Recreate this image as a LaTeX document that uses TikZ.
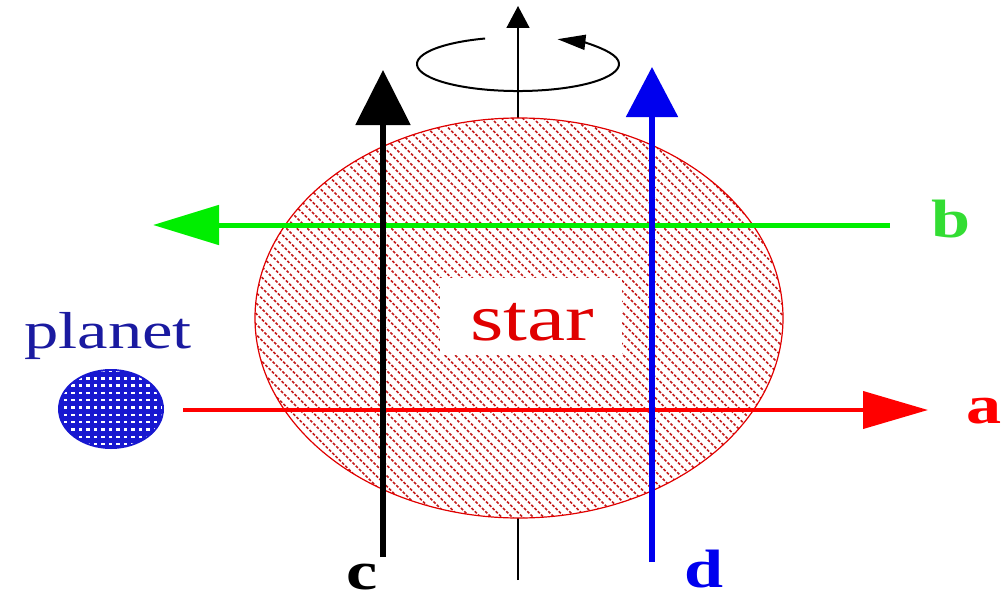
\documentclass[tikz,border=0pt]{standalone}
\usepackage{fontspec}
\setmainfont{Liberation Serif}
\usetikzlibrary{arrows.meta}
\definecolor{starred}{HTML}{E00000}
\definecolor{hatchred}{HTML}{C41A1A}
\definecolor{labgreen}{HTML}{33DD33}
\definecolor{arrgreen}{HTML}{00EE00}
\definecolor{navy}{HTML}{1A1AA0}
\definecolor{planetblue}{HTML}{1818D0}
\definecolor{arrblue}{HTML}{0000EE}
\tikzset{
  lab/.style={font=\bfseries\fontsize{27}{30}\selectfont, xscale=1.3, anchor=base, inner sep=0pt, text depth=0pt},
  hatch/.style={draw=hatchred, line width=0.85pt, dash pattern=on 1.4pt off 0.9pt},
}
\begin{document}
\begin{tikzpicture}[x=0.5pt,y=-0.5pt]
\useasboundingbox (0,0) rectangle (1005,599);
% coordinates
\coordinate (axb) at (518,580);
\coordinate (axt) at (518,6);
\coordinate (as) at (183,410);
\coordinate (ae) at (928,410);
\coordinate (bs) at (890,225);
\coordinate (be) at (153,225);
\coordinate (cs) at (383,557);
\coordinate (ce) at (383,70);
\coordinate (ds) at (652,562);
\coordinate (de) at (652,67);
\coordinate (rs) at (485.1,38.5);
% rotation axis (behind star)
\draw[line width=0.8pt, -{Triangle[length=11pt,width=11.5pt]}] (axb) -- (axt);
% rotation ellipse
\draw[line width=1pt, -{Triangle[length=14pt,width=7.5pt]}] (rs) arc[start angle=251, end angle=-67, x radius=101, y radius=27];
% star
\fill[white] (519,318) ellipse[x radius=264, y radius=200];
\begin{scope}
\clip (519,318) ellipse[x radius=264, y radius=200];
\foreach \i in {40,50.5,...,1000}
  \draw[hatch] (\i-210,108) -- (\i+210,528);
\end{scope}
\draw[starred, line width=0.6pt] (519,318) ellipse[x radius=264, y radius=200];
\fill[white] (440,278) rectangle (622,355);
\node[font=\fontsize{33}{36}\selectfont, xscale=1.3, text=starred, anchor=base, inner sep=0pt] (star) at (532,340) {star};
% planet
\fill[planetblue] (111,409) ellipse[x radius=53, y radius=40];
\begin{scope}
\clip (111,409) ellipse[x radius=51, y radius=38];
\foreach \x in {58,65.5,...,166}
  \foreach \y in {371,378.3,...,450}
    \fill[white] (\x-1.6,\y-1.2) rectangle (\x+1.6,\y+1.2);
\end{scope}
\node[font=\fontsize{26}{28}\selectfont, xscale=1.32, text=navy, anchor=base, inner sep=0pt] (planet) at (108,348) {planet};
% rays
\draw[red, line width=2pt, -{Triangle[length=32.5pt,width=18.5pt]}] (as) -- (ae);
\draw[arrgreen, line width=2.5pt, -{Triangle[length=33pt,width=19.5pt]}] (bs) -- (be);
\draw[black, line width=2.8pt, -{Triangle[length=27.5pt,width=27pt]}] (cs) -- (ce);
\draw[arrblue, line width=2.7pt, -{Triangle[length=25pt,width=25.5pt]}] (ds) -- (de);
% labels
\node[lab, text=red] (la) at (984,423) {a};
\node[lab, text=labgreen] (lb) at (951,237) {b};
\node[lab, text=black] (lc) at (362,589) {c};
\node[lab, text=arrblue] (ld) at (704,587) {d};
\end{tikzpicture}
\end{document}
